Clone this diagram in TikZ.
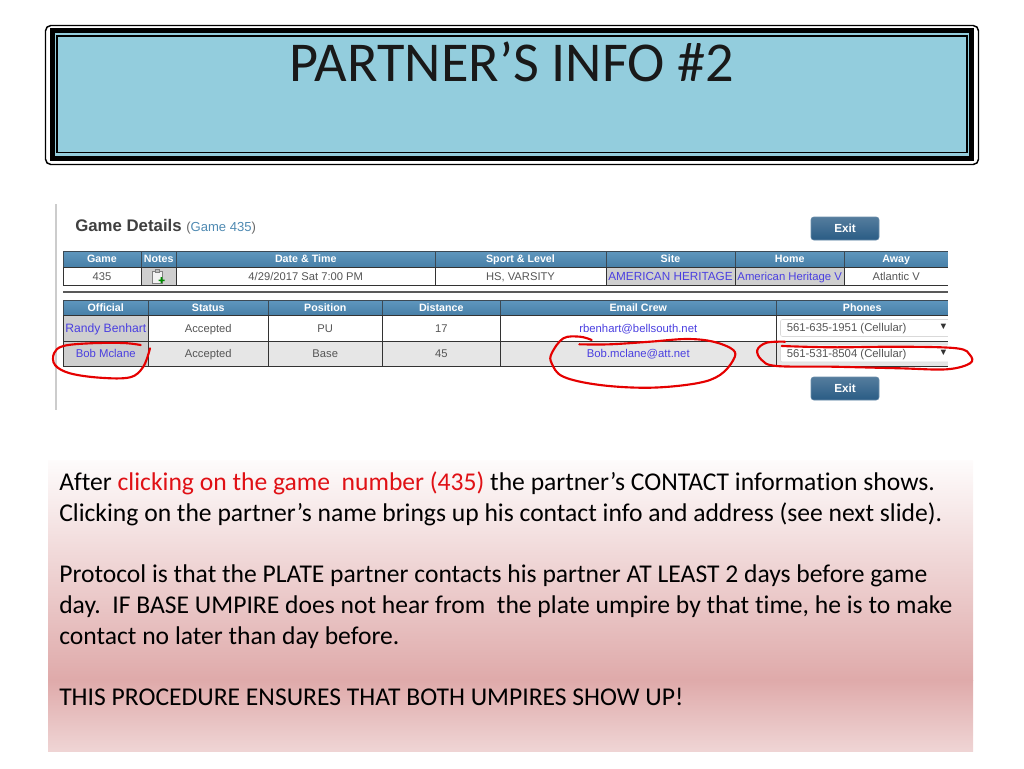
\documentclass[tikz,border=0pt]{standalone}
\usepackage{fontspec}
\setmainfont{Carlito}[Ligatures=NoCommon]
\newfontfamily\webfont{Liberation Sans}
\usetikzlibrary{positioning, fit, shapes}
\definecolor{titleblue}{HTML}{93CDDD}
\definecolor{headblue}{HTML}{4F8AB2}
\definecolor{headtop}{HTML}{5F97BE}
\definecolor{headbot}{HTML}{477FA7}
\definecolor{headedge}{HTML}{3C4A55}
\definecolor{linkblue}{HTML}{4A3FE0}
\definecolor{sitegrey}{HTML}{CFCFCF}
\definecolor{rowgrey}{HTML}{E6E6E6}
\definecolor{textgrey}{HTML}{555555}
\definecolor{redword}{HTML}{E01015}
\definecolor{panelpink}{HTML}{DFAAAA}
\definecolor{exitblue}{HTML}{2A5C85}
\tikzset{
  headcell/.style={draw=headedge, line width=0.6pt, top color=headtop, bottom color=headbot, text=white, font=\webfont\bfseries\fontsize{8}{8}\selectfont, text height=5.8pt, text depth=0pt, inner sep=0pt, outer sep=0pt, anchor=north west},
  bodycell/.style={draw=black!80, line width=0.6pt, text=textgrey, font=\webfont\fontsize{8.4}{8.4}\selectfont, text height=6pt, text depth=0pt, inner sep=0pt, outer sep=0pt, anchor=north west},
  linkcell/.style={bodycell, text=linkblue, font=\webfont\fontsize{8.5}{8.5}\selectfont},
  exitbtn/.style={rounded corners=2pt, draw=exitblue!70, top color=exitblue!80!white, bottom color=exitblue, text=white, font=\webfont\bfseries\fontsize{8.8}{8.8}\selectfont, minimum width=51pt, minimum height=17.25pt, inner sep=0pt},
  selbox/.style={draw=black!15, rounded corners=1.5pt, fill=white, line width=0.4pt},
  scribble/.style={draw=red!90!black, line width=1.6pt, smooth, tension=0.6, line cap=round},
  bodyline/.style={anchor=base west, font=\fontsize{19.2}{19.2}\selectfont, text=black, inner sep=0pt}
}
\begin{document}
\begin{tikzpicture}[x=0.75pt, y=-0.75pt]
  \useasboundingbox (0,0) rectangle (1024,768);

  % title box
  \fill[titleblue] (55,33) rectangle (969,156);
  \draw[black, line width=1.1pt, rounded corners=4pt] (45.5,25.5) rectangle (978.5,164.5);
  \draw[black, line width=3.6pt] (52.5,30.5) rectangle (971.5,158.5);
  \draw[black, line width=1.4pt] (57,36) rectangle (967,152.5);
  \node[font=\fontsize{42.2}{42.2}\selectfont, text=black!90, inner sep=0pt] (title) at (512,62) {PARTNER’S INFO \#2};

  % screenshot
  \draw[black!20, line width=1.1pt] (56,204) -- (56,410);
  \node[anchor=base west, inner sep=0pt, text=black!75, font=\webfont\bfseries\fontsize{12.6}{12.6}\selectfont] (gametitle) at (75,231) {Game Details};
  \node[inner sep=0pt, text=headblue, font=\webfont\fontsize{9.8}{9.8}\selectfont, right=3pt of gametitle.base east, anchor=base west] (gamenum) {{\color{black!60}(}Game 435{\color{black!60})}};
  \node[exitbtn] (exittop) at (845,228.5) {Exit};
  \node[exitbtn] (exitbot) at (845,388.5) {Exit};

  % upper table
  \foreach \x/\w/\name/\txt in {63/78/game/Game, 141/35.5/notes/Notes, 176.5/258.5/date/Date \& Time, 435/171/sport/Sport \& Level, 606/129/site/Site, 735/109.5/home/Home, 844.5/103.5/away/Away}
    \node[headcell, minimum width=\w*0.75pt, minimum height=12pt] (\name) at (\x,251) {\txt};
  \foreach \x/\w/\name/\txt in {63/78/gamev/435, 176.5/258.5/datev/{4/29/2017 Sat 7:00 PM}, 435/171/sportv/{HS, VARSITY}, 844.5/103.5/awayv/Atlantic V}
    \node[bodycell, minimum width=\w*0.75pt, minimum height=13.5pt] (\name) at (\x,267) {\txt};
  \node[bodycell, fill=sitegrey, minimum width=26.6pt, minimum height=13.5pt] (notesv) at (141,267) {};
  \node[linkcell, fill=sitegrey, font=\webfont\fontsize{8.8}{8.8}\selectfont, minimum width=96.75pt, minimum height=13.5pt] (sitev) at (606,267) {AMERICAN HERITAGE};
  \node[linkcell, fill=sitegrey, minimum width=82.1pt, minimum height=13.5pt] (homev) at (735,267) {American Heritage V};
  % notes icon
  \draw[black!50, fill=black!5, line width=0.5pt] (152.5,271) rectangle (162,283);
  \draw[black!50, fill=black!25, line width=0.4pt] (155,269.5) rectangle (159.5,272);
  \fill[green!55!black] (158.5,279.5) rectangle (164.5,281) (160.7,277.2) rectangle (162.3,283.2);

  \draw[black!65, line width=1.1pt] (63,292) -- (948,292);

  % lower table
  \foreach \x/\w/\name/\txt in {63/85.5/official/Official, 148.5/119.5/status/Status, 268/114.5/position/Position, 382.5/117.5/distance/Distance, 500/276.5/email/Email Crew, 776.5/171.5/phones/Phones}
    \node[headcell, minimum width=\w*0.75pt, minimum height=11.6pt] (\name) at (\x,300) {\txt};
  \foreach \x/\w/\name/\txt in {148.5/119.5/statusa/Accepted, 268/114.5/positiona/PU, 382.5/117.5/distancea/17}
    \node[bodycell, minimum width=\w*0.75pt, minimum height=19.2pt] (\name) at (\x,315.5) {\txt};
  \foreach \x/\w/\name/\txt in {148.5/119.5/statusb/Accepted, 268/114.5/positionb/Base, 382.5/117.5/distanceb/45}
    \node[bodycell, fill=rowgrey, minimum width=\w*0.75pt, minimum height=19.2pt] (\name) at (\x,341) {\txt};
  \node[linkcell, fill=sitegrey, font=\webfont\fontsize{9.1}{9.1}\selectfont, minimum width=64.1pt, minimum height=19.2pt] (officiala) at (63,315.5) {Randy Benhart};
  \node[linkcell, fill=sitegrey, minimum width=64.1pt, minimum height=19.2pt] (officialb) at (63,341) {Bob Mclane};
  \node[linkcell, minimum width=207.4pt, minimum height=19.2pt] (emaila) at (500,315.5) {rbenhart@bellsouth.net};
  \node[linkcell, fill=rowgrey, minimum width=207.4pt, minimum height=19.2pt] (emailb) at (500,341) {Bob.mclane@att.net};
  \node[bodycell, minimum width=128.6pt, minimum height=19.2pt] (phonea) at (776.5,315.5) {};
  \node[bodycell, fill=rowgrey, minimum width=128.6pt, minimum height=19.2pt] (phoneb) at (776.5,341) {};
  \draw[selbox] (780.5,319.5) rectangle (950,336.5);
  \draw[selbox] (780.5,345) rectangle (950,362);
  \node[anchor=west, inner sep=0pt, text=textgrey, font=\webfont\fontsize{8.5}{8.5}\selectfont] (phonetxta) at (786.5,328.5) {561-635-1951 (Cellular)};
  \node[anchor=west, inner sep=0pt, text=textgrey, font=\webfont\fontsize{8.5}{8.5}\selectfont] (phonetxtb) at (786.5,354.5) {561-531-8504 (Cellular)};
  \node[inner sep=0pt, font=\webfont\fontsize{7}{7}\selectfont, text=black!80] (arrowa) at (943.5,327) {▼};
  \node[inner sep=0pt, font=\webfont\fontsize{7}{7}\selectfont, text=black!80] (arrowb) at (943.5,353) {▼};
  % the shot is cut off on the right
  \fill[white] (948.3,249) rectangle (953,369);

  % red marks
  \draw[scribble] plot coordinates {(140.7,345) (123,343) (90,343.3) (63.3,346) (54,353.3) (55,365) (70,373.3) (100,377.7) (130,377.3) (143.3,366.7) (150,348.3)};
  \draw[scribble] plot coordinates {(579.3,344.3) (610,344.3) (650,341.7) (686.7,339) (713.3,341.7) (733.3,350) (733.3,360) (720,375) (696.7,383.3) (650,387.7) (600,385) (563.3,376.7) (551.7,363.3) (551.7,353.3) (563.3,338.3) (580,336.7) (591.7,340)};
  \draw[scribble] plot coordinates {(785,341.7) (766.7,342.7) (757.3,350) (761.7,360) (776.7,366) (833.3,366.7) (900,368.3) (946.7,369.3) (970,363.3) (970,355) (956.7,348.3) (900,346.7) (833.3,347.3) (781.7,346)};

  % text panel
  \shade[top color=white!96!panelpink, bottom color=panelpink] (48,460) rectangle (973,680);
  \shade[top color=panelpink, bottom color=panelpink!50!white] (48,680) rectangle (973,751);
  \node[bodyline] (line1) at (59,490) {After \textcolor{redword}{clicking on the game\ \ number (435)} the partner’s CONTACT information shows.};
  \node[bodyline] (line2) at (59,521) {Clicking on the partner’s name brings up his contact info and address (see next slide).};
  \node[bodyline] (line3) at (59,582) {Protocol is that the PLATE partner contacts his partner AT LEAST 2 days before game};
  \node[bodyline] (line4) at (59,613) {day.\ \ IF BASE UMPIRE does not hear from\ \ the plate umpire by that time, he is to make};
  \node[bodyline] (line5) at (59,644) {contact no later than day before.};
  \node[bodyline] (line6) at (59,705) {THIS PROCEDURE ENSURES THAT BOTH UMPIRES SHOW UP!};
\end{tikzpicture}
\end{document}
